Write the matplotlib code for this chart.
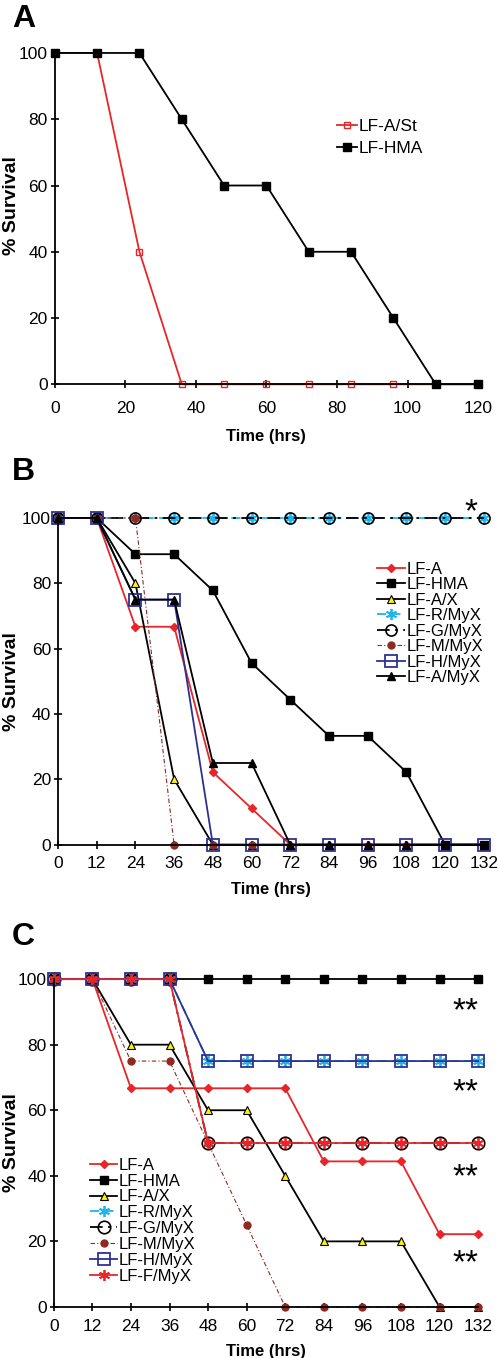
import numpy as np
import matplotlib
matplotlib.use('Agg')
import matplotlib.pyplot as plt

plt.rcParams['font.family'] = ['Liberation Sans', 'DejaVu Sans']

RED = '#e8262a'
BLUE = '#2e3192'
CYAN = '#1fb5ea'
BROWN = '#8e2a22'
YELLOW = '#fff200'

# Panel A
t_a = [0, 12, 24, 36, 48, 60, 72, 84, 96, 108, 120]
a_st = [100, 100, 40, 0, 0, 0, 0, 0, 0, 0]
a_hma = [100, 100, 100, 80, 60, 60, 40, 40, 20, 0, 0]

# Panel B
t_b = [0, 12, 24, 36, 48, 60, 72, 84, 96, 108, 120, 132]
b_lfa = [100, 100, 66.7, 66.7, 22.2, 11.1, 0, 0, 0, 0, 0, 0]
b_hma = [100, 100, 88.9, 88.9, 77.8, 55.6, 44.4, 33.3, 33.3, 22.2, 0, 0]
b_ax = [100, 100, 80, 20, 0, 0, 0, 0, 0, 0, 0, 0]
b_rmyx = [100] * 12
b_gmyx = [100] * 12
b_mmyx = [100, 100, 100, 0, 0, 0]
b_hmyx = [100, 100, 75, 75, 0, 0, 0, 0, 0, 0, 0, 0]
b_amyx = [100, 100, 75, 75, 25, 25, 0, 0, 0, 0, 0, 0]

# Panel C
t_c = t_b
c_lfa = [100, 100, 66.7, 66.7, 66.7, 66.7, 66.7, 44.4, 44.4, 44.4, 22.2, 22.2]
c_hma = [100] * 12
c_ax = [100, 100, 80, 80, 60, 60, 40, 20, 20, 20, 0, 0]
c_rmyx = [100, 100, 100, 100, 75, 75, 75, 75, 75, 75, 75, 75]
c_gmyx = [100, 100, 100, 100, 50, 50, 50, 50, 50, 50, 50, 50]
c_mmyx = [100, 100, 75, 75, 50, 25, 0, 0, 0, 0, 0, 0]
c_hmyx = [100, 100, 100, 100, 75, 75, 75, 75, 75, 75, 75, 75]
c_fmyx = [100, 100, 100, 100, 50, 50, 50, 50, 50, 50, 50, 50]

labels_b = ['LF-A', 'LF-HMA', 'LF-A/X', 'LF-R/MyX', 'LF-G/MyX', 'LF-M/MyX', 'LF-H/MyX', 'LF-A/MyX']
labels_c = ['LF-A', 'LF-HMA', 'LF-A/X', 'LF-R/MyX', 'LF-G/MyX', 'LF-M/MyX', 'LF-H/MyX', 'LF-F/MyX']

# significance marks (text, y position) for panel C
sig_c = [('**', 93.6), ('**', 68.6), ('**', 42.7), ('**', 16.5)]

ASTER = (6, 2, 0)

fig = plt.figure(figsize=(4.98, 13.58), dpi=100)


def style_axes(ax, xmax, xticks, ylab_x, xpad, lpad, ylab_y=0.5):
    ax.set_xlim(0, xmax)
    ax.set_ylim(0, 100)
    ax.set_xticks(xticks)
    ax.set_yticks([0, 20, 40, 60, 80, 100])
    ax.spines['top'].set_visible(False)
    ax.spines['right'].set_visible(False)
    for s in ['left', 'bottom']:
        ax.spines[s].set_linewidth(1.3)
    ax.tick_params(direction='inout', length=6, width=1.2, labelsize=12.5, pad=2)
    ax.tick_params(axis='x', pad=xpad)
    ax.set_xlabel('Time (hrs)', fontsize=12, fontweight='bold', labelpad=lpad)
    ax.set_ylabel('% Survival', fontsize=14, fontweight='bold')
    ax.yaxis.set_label_coords(ylab_x, ylab_y)


def series(ax, t, y, **kw):
    base = dict(lw=1.3, clip_on=False)
    base.update(kw)
    return ax.plot(t[:len(y)], y, **base)[0]


def star_text(ax, x, yc, s):
    # asterisks sit high in the em box: put the baseline below the wanted centre
    ax.text(x, yc - 6.0, s, fontsize=24, ha='center', va='baseline')


# ---- A
axA = fig.add_axes([0.110, 0.717, 0.850, 0.244])
series(axA, t_a, a_st, color=RED, marker='s', ms=5, mfc='none', mew=1.0, label='LF-A/St')
series(axA, t_a, a_hma, color='black', marker='s', ms=6, label='LF-HMA')
style_axes(axA, 120, np.arange(0, 121, 20), -0.083, 9, 9.5, 0.54)
axA.legend(loc='upper left', bbox_to_anchor=(0.667, 0.80), frameon=False, fontsize=12.5,
           handlelength=1.15, handletextpad=0.1, labelspacing=0.35, borderpad=0, borderaxespad=0)

# ---- B
axB = fig.add_axes([0.1165, 0.378, 0.855, 0.2406])
hb = []
hb.append(series(axB, t_b, b_lfa, color=RED, marker='D', ms=4.5))
hb.append(series(axB, t_b, b_hma, color='black', marker='s', ms=6))
hb.append(series(axB, t_b, b_ax, color='black', marker='^', ms=6, mfc=YELLOW, mec='black', mew=0.8))
hb.append(series(axB, t_b, b_rmyx, color=CYAN, marker=ASTER, ms=8, mew=1.3, dashes=(5, 3)))
hb.append(series(axB, t_b, b_gmyx, color='black', marker='o', ms=8, mfc='none', mew=1.2,
                 dashes=(7, 3, 1.5, 3)))
hb.append(series(axB, t_b, b_mmyx, color=BROWN, marker='o', ms=5, lw=0.8, dashes=(4, 2, 1, 2)))
hb.append(series(axB, t_b, b_hmyx, color=BLUE, marker='s', ms=8, mfc='none', mew=1.3))
hb.append(series(axB, t_b, b_amyx, color='black', marker='^', ms=6))
style_axes(axB, 132, np.arange(0, 133, 12), -0.089, 5.5, 7.5)
star_text(axB, 128, 104.9, '*')
axB.legend(hb, labels_b, loc='upper left', bbox_to_anchor=(0.75, 0.866), frameon=False,
           fontsize=12, handlelength=1.65, handletextpad=0.1, labelspacing=0.03, borderpad=0,
           borderaxespad=0)

# ---- C
axC = fig.add_axes([0.108, 0.0376, 0.852, 0.2414])
hc = []
hc.append(series(axC, t_c, c_lfa, color=RED, marker='D', ms=4.5))
hc.append(series(axC, t_c, c_hma, color='black', marker='s', ms=6))
hc.append(series(axC, t_c, c_ax, color='black', marker='^', ms=6, mfc=YELLOW, mec='black', mew=0.8))
hc.append(series(axC, t_c, c_rmyx, color=CYAN, marker=ASTER, ms=8, mew=1.3, dashes=(5, 3)))
hc.append(series(axC, t_c, c_gmyx, color='black', marker='o', ms=9, mfc='none', mew=1.2,
                 dashes=(7, 3, 1.5, 3)))
hc.append(series(axC, t_c, c_mmyx, color=BROWN, marker='o', ms=5, lw=0.8, dashes=(4, 2, 1, 2)))
hc.append(series(axC, t_c, c_hmyx, color=BLUE, marker='s', ms=8, mfc='none', mew=1.3))
hc.append(series(axC, t_c, c_fmyx, color=RED, marker=ASTER, ms=8, mew=1.3))
style_axes(axC, 132, np.arange(0, 133, 12), -0.080, 5.5, 7.5)
for s, yv in sig_c:
    star_text(axC, 128, yv, s)
axC.legend(hc, labels_c, loc='upper left', bbox_to_anchor=(0.085, 0.455), frameon=False,
           fontsize=12, handlelength=1.65, handletextpad=0.1, labelspacing=0.05, borderpad=0,
           borderaxespad=0)

# panel letters
fig.text(0.024, 0.980, 'A', fontsize=23, fontweight='bold', va='baseline')
fig.text(0.024, 0.6465, 'B', fontsize=23, fontweight='bold', va='baseline')
fig.text(0.024, 0.3041, 'C', fontsize=23, fontweight='bold', va='baseline')

fig.savefig('out.png', dpi=100)
